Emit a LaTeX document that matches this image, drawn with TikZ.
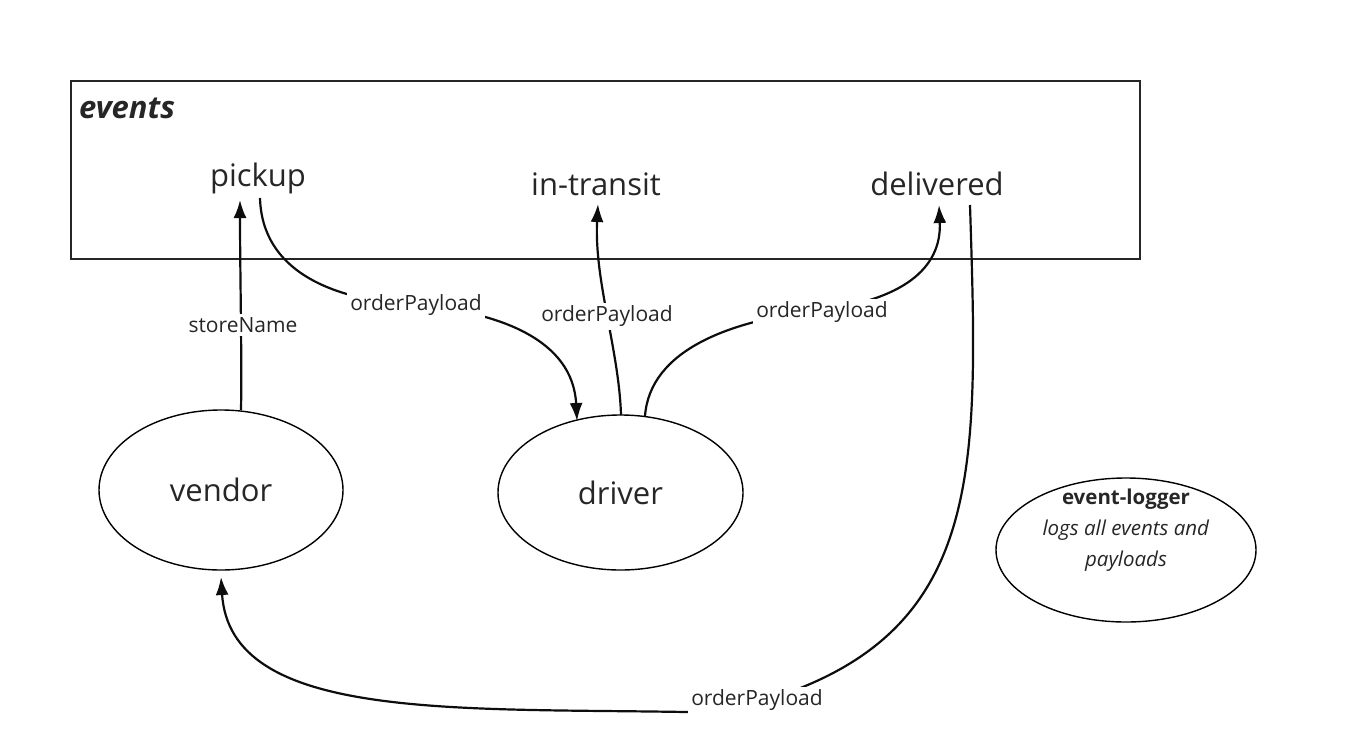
\documentclass[tikz,border=0pt]{standalone}
\usepackage{fontspec}
\setmainfont{Open Sans}
\usetikzlibrary{shapes.geometric,arrows.meta}
\definecolor{txt}{HTML}{262626}
\tikzset{
  box/.style={draw=black!85, line width=1.4pt, minimum width=1069pt, minimum height=178pt, inner sep=0pt},
  ell/.style={ellipse, draw=black, line width=1.4pt, inner sep=0pt, text=txt},
  evt/.style={text=txt, font=\fontsize{31}{37}\selectfont, inner sep=1pt},
  lbl/.style={text=txt, font=\fontsize{21}{25}\selectfont, fill=white, inner sep=3pt},
  flow/.style={draw=black!95, line width=2.2pt, -{Latex[length=18pt,width=13pt]}}
}
\begin{document}
\begin{tikzpicture}[x=1pt,y=-1pt]
\useasboundingbox (0,0) rectangle (1346,742);
% events box
\node[box] (events) at (605.5,170) {};
\node[anchor=west, text=txt, font=\fontsize{31}{36}\selectfont\bfseries\itshape, inner sep=0pt] (evtitle) at (79,108) {events};
\node[evt] (pickup) at (258,178) {pickup};
\node[evt] (transit) at (596,184) {in-transit};
\node[evt] (delivered) at (937,184) {delivered};
% ellipses
\node[ell, minimum width=244pt, minimum height=160pt, font=\fontsize{31}{37}\selectfont] (vendor) at (221,490) {vendor};
\node[ell, minimum width=245pt, minimum height=155pt, font=\fontsize{31}{37}\selectfont] (driver) at (620.5,492.5) {driver};
\node[ell, minimum width=260pt, minimum height=144pt] (logger) at (1126,550) {};
\node[align=center, text=txt, font=\fontsize{20.5}{31}\selectfont, inner sep=0pt] (loggertext) at (1126,530) {\textbf{event-logger}\\\textit{logs all events and}\\\textit{payloads}};
% coordinates
\coordinate (vTop) at (241,410);
\coordinate (pBot) at (240,200);
\coordinate (pBot2) at (260,198);
\coordinate (dTopL) at (577,421);
\coordinate (dTopM) at (621,415);
\coordinate (dTopR) at (645,416);
\coordinate (tBot) at (598,204);
\coordinate (dlBot) at (939,205);
\coordinate (dlBot2) at (970,205);
\coordinate (vBot) at (221,577);
% vendor -> pickup
\draw[flow] (vTop) .. controls (242,360) and (240,270) .. (pBot);
\node[lbl] (l1) at (243,325) {storeName};
% pickup -> driver
\draw[flow] (pBot2) .. controls (262,270) and (330,300) .. (415,305)
  .. controls (500,312) and (573,340) .. (dTopL);
\node[lbl] (l2) at (416,305) {orderPayload};
% driver -> in-transit
\draw[flow] (dTopM) .. controls (619,350) and (594,280) .. (tBot);
\node[lbl] (l3) at (607,316) {orderPayload};
% driver -> delivered
\draw[flow] (dTopR) .. controls (650,350) and (730,320) .. (822,310)
  .. controls (900,300) and (942,270) .. (dlBot);
\node[lbl] (l4) at (822,312) {orderPayload};
% delivered -> vendor
\draw[flow] (dlBot2) .. controls (978,460) and (985,620) .. (790,692)
  .. controls (760,703) and (720,712) .. (686,712)
  .. controls (450,708) and (230,720) .. (vBot);
\node[lbl] (l5) at (757,700) {orderPayload};
\end{tikzpicture}
\end{document}
